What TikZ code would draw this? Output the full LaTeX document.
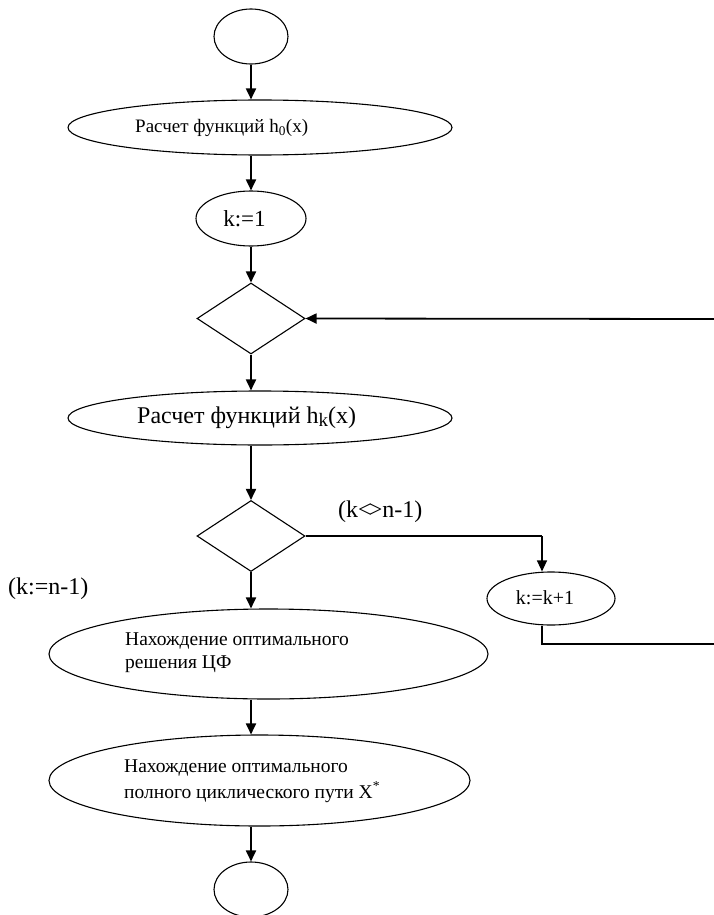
\documentclass[tikz,border=0pt]{standalone}
\usepackage{fontspec}
\setmainfont{Liberation Serif}
\usetikzlibrary{shapes.geometric,arrows.meta}
\tikzset{
  oval/.style={draw, ellipse, line width=1.1pt, inner sep=0pt},
  rhomb/.style={draw, diamond, line width=1.1pt, inner sep=0pt, minimum width=108pt, minimum height=71pt},
  arr/.style={line width=1.8pt, -{Triangle[length=11pt,width=10pt]}},
  thinarr/.style={line width=1.1pt, -{Triangle[length=11pt,width=10pt]}},
  thinline/.style={line width=1.1pt},
  txt/.style={inner sep=0pt, anchor=west, align=left},
}
\newcommand{\fsz}[1]{\fontsize{#1}{#1}\selectfont}
\begin{document}
\begin{tikzpicture}[x=1pt,y=-1pt]
\useasboundingbox (0,0) rectangle (714,915);
% shapes
\node[oval, minimum width=74pt, minimum height=55pt] (top) at (251,36.5) {};
\node[oval, minimum width=384pt, minimum height=55pt] (e1) at (260,127.5) {};
\node[oval, minimum width=110pt, minimum height=55pt] (k1) at (251,218.5) {};
\node[rhomb] (d1) at (251,318.5) {};
\node[oval, minimum width=384pt, minimum height=54pt] (e2) at (260,418) {};
\node[rhomb] (d2) at (251,536) {};
\node[oval, minimum width=128pt, minimum height=53pt] (kk) at (551,598.5) {};
\node[oval, minimum width=439pt, minimum height=90pt] (e3) at (268.5,654) {};
\node[oval, minimum width=421pt, minimum height=91pt] (e4) at (259.5,780.5) {};
\node[oval, minimum width=74pt, minimum height=55pt] (bot) at (251,889.5) {};
% texts
\node[txt] (t1) at (135,128) {\fsz{19}Расчет функций h\textsubscript{0}(x)};
\node[anchor=center, inner sep=0pt] (t2) at (244.5,219) {\fsz{23}k:=1};
\node[txt] (t3) at (137,418) {\fsz{24}Расчет функций h\raisebox{-0.25ex}{\fsz{19}k}(x)};
\node[anchor=center, inner sep=0pt] (t4) at (545,598) {\fsz{20}k:=k+1};
\node[txt, font={\fontsize{19.5}{23}\selectfont}] (t5) at (125,652.5) {Нахождение оптимального\\ решения ЦФ};
\node[txt, font={\fontsize{19.5}{26}\selectfont}] (t6) at (124,781) {Нахождение оптимального\\ полного циклического пути X\textsuperscript{*}};
\node[txt] (l1) at (338,512) {\fsz{24}(k<\kern-0.12em>n-1)};
\node[txt] (l2) at (8,589) {\fsz{24}(k:=n-1)};
% helper coordinates
\coordinate (rin) at (714,319);
\coordinate (kx) at (542,536);
\coordinate (kb) at (542,644);
\coordinate (rout) at (714,644);
% connectors
\draw[arr] (top.south) -- (top.south |- e1.north);
\draw[arr] (top.south |- e1.south) -- (k1.north);
\draw[arr] (k1.south) -- (d1.north);
\draw[arr] (rin) -- (d1.east);
\draw[arr] (d1.south) -- (d1.south |- e2.north);
\draw[arr] (d1.south |- e2.south) -- (d2.north);
\draw[thinline] (d2.east) -- (kx);
\draw[thinarr] (kx) -- (kx |- kk.north);
\draw[thinline] (kx |- kk.south) -- (kb) -- (rout);
\draw[arr] (d2.south) -- (d2.south |- e3.north);
\draw[arr] (d2.south |- e3.south) -- (d2.south |- e4.north);
\draw[arr] (d2.south |- e4.south) -- (bot.north);
\end{tikzpicture}
\end{document}
